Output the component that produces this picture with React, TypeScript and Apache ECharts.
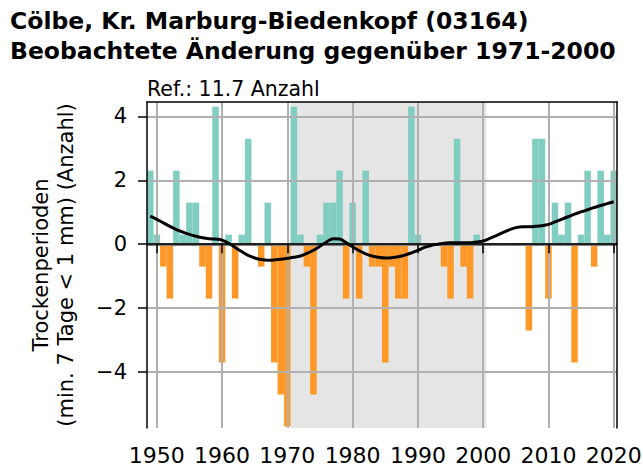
import React, { useEffect, useRef } from "react";
import * as echarts from "echarts";

const years: number[] = [];
for (let y = 1949; y <= 2020; y++) years.push(y);

// anomaly (count - 11.7), 1949..2020
const anomalies: number[] = [
  2.3, 0.3, -0.7, -1.7, 2.3, 0.3, 1.3, 1.3, -0.7, -1.7, // 1949-1958
  4.3, -3.7, 0.3, -1.7, 0.3, 3.3, 0, -0.7, 1.3, -3.7, // 1959-1968
  -4.7, -5.7, 4.3, 0.3, -0.7, -4.7, 0.3, 1.3, 1.3, 2.3, // 1969-1978
  -1.7, 1.3, -1.7, 2.3, -0.7, -0.7, -3.7, -0.7, -1.7, -1.7, // 1979-1988
  4.3, 0.3, 0, 0, 0, -0.7, -1.7, 3.3, -0.7, -1.7, // 1989-1998
  0.3, 0, 0, 0, 0, 0, 0, 0, -2.7, 3.3, // 1999-2008
  3.3, -1.7, 1.3, 0.3, 1.3, -3.7, 0.3, 2.3, -0.7, 2.3, // 2009-2018
  0.3, 2.3, // 2019-2020
];

// smoothed trend, 1949..2020
const smoothed: number[] = [
  0.88, 0.78, 0.67, 0.56, 0.46, 0.38, 0.31, 0.25, 0.2, 0.17, // 1949-1958
  0.16, 0.13, 0.03, -0.1, -0.23, -0.35, -0.43, -0.48, -0.5, -0.49, // 1959-1968
  -0.47, -0.44, -0.41, -0.37, -0.29, -0.19, -0.06, 0.07, 0.17, 0.16, // 1969-1978
  0.05, -0.08, -0.2, -0.3, -0.37, -0.41, -0.43, -0.42, -0.39, -0.34, // 1979-1988
  -0.27, -0.19, -0.1, -0.04, 0.0, 0.03, 0.05, 0.05, 0.05, 0.05, // 1989-1998
  0.07, 0.1, 0.18, 0.27, 0.36, 0.45, 0.52, 0.55, 0.55, 0.56, // 1999-2008
  0.58, 0.62, 0.7, 0.78, 0.86, 0.94, 1.01, 1.08, 1.15, 1.21, // 2009-2018
  1.27, 1.33, // 2019-2020
];

const xTicks: number[] = [1950, 1960, 1970, 1980, 1990, 2000, 2010, 2020];
const yTicks: number[] = [-4, -2, 0, 2, 4];
const refPeriod: number[] = [1970.5, 2000.5];
const xRange: number[] = [1948.5, 2020.5];
const yRange: number[] = [-5.75, 4.45];

const titleLine1 = "Cölbe, Kr. Marburg-Biedenkopf (03164)";
const titleLine2 = "Beobachtete Änderung gegenüber 1971-2000";
const refText = "Ref.: 11.7 Anzahl";
const yName = "Trockenperioden\n(min. 7 Tage < 1 mm) (Anzahl)";

const TEAL = "#80cdc1";
const ORANGE = "#fe9929";
const FONT = "DejaVu Sans";

export default function App() {
  const ref = useRef<HTMLDivElement>(null);
  useEffect(() => {
    document.body.style.margin = "0";
    if (!ref.current) return;
    const chart = echarts.init(ref.current, null, { renderer: "svg" });
    const fmt = (v: number) => (v < 0 ? "\u2212" + Math.abs(v) : String(v));
    chart.setOption({
      animation: false,
      backgroundColor: "#ffffff",
      textStyle: { fontFamily: FONT },
      grid: { left: 147, right: 26, top: 102, bottom: 42, outerBoundsMode: "none" },
      graphic: [
        {
          type: "text",
          x: 10,
          y: 21,
          style: {
            text: titleLine1,
            font: `bold 23.5px "${FONT}"`,
            fill: "#000",
            verticalAlign: "middle",
          },
        },
        {
          type: "text",
          x: 10,
          y: 51,
          style: {
            text: titleLine2,
            font: `bold 23.5px "${FONT}"`,
            fill: "#000",
            verticalAlign: "middle",
          },
        },
        {
          type: "text",
          x: 147,
          y: 89,
          style: {
            text: refText,
            font: `20.5px "${FONT}"`,
            fill: "#000",
            verticalAlign: "middle",
          },
        },
      ],
      xAxis: [
        {
          type: "value",
          min: xRange[0],
          max: xRange[1],
          position: "bottom",
          z: 10,
          axisLine: { show: true, lineStyle: { color: "#000", width: 1.5 } },
          axisTick: {
            show: true,
            length: 9,
            lineStyle: { color: "#000", width: 1.5 },
            customValues: xTicks,
          },
          axisLabel: {
            show: true,
            customValues: xTicks,
            fontSize: 22,
            color: "#000",
            fontFamily: FONT,
            margin: 16,
            formatter: (v: number) => String(v),
          },
          splitLine: { show: false },
        },
        {
          type: "value",
          min: xRange[0],
          max: xRange[1],
          position: "top",
          z: 10,
          axisLine: { show: true, onZero: false, lineStyle: { color: "#000", width: 1.5 } },
          axisTick: { show: false },
          axisLabel: { show: false },
          splitLine: { show: false },
        },
      ],
      yAxis: [
        {
          type: "value",
          min: yRange[0],
          max: yRange[1],
          position: "left",
          z: 10,
          name: yName,
          nameLocation: "middle",
          nameRotate: 90,
          nameGap: 69,
          nameTextStyle: { fontSize: 21, color: "#000", fontFamily: FONT, lineHeight: 25 },
          axisLine: { show: true, onZero: false, lineStyle: { color: "#000", width: 1.5 } },
          axisTick: {
            show: true,
            length: 9,
            lineStyle: { color: "#000", width: 1.5 },
            customValues: yTicks,
          },
          axisLabel: {
            show: true,
            customValues: yTicks,
            fontSize: 21,
            color: "#000",
            fontFamily: FONT,
            margin: 20,
            formatter: fmt,
          },
          splitLine: { show: false },
        },
        {
          type: "value",
          min: yRange[0],
          max: yRange[1],
          position: "right",
          z: 10,
          axisLine: { show: true, onZero: false, lineStyle: { color: "#000", width: 1.5 } },
          axisTick: { show: false },
          axisLabel: { show: false },
          splitLine: { show: false },
        },
      ],
      series: [
        {
          name: "shade",
          type: "line",
          data: [],
          z: 1,
          silent: true,
          markArea: {
            silent: true,
            itemStyle: { color: "#e5e5e5" },
            data: [[{ xAxis: refPeriod[0] }, { xAxis: refPeriod[1] }]],
          },
        },
        {
          name: "gridlines",
          type: "line",
          data: [],
          z: 2,
          silent: true,
          markLine: {
            silent: true,
            symbol: "none",
            label: { show: false },
            lineStyle: { color: "#b0b0b0", width: 2, type: "solid" },
            data: [
              ...xTicks.map((v) => ({ xAxis: v })),
              ...yTicks.map((v) => ({ yAxis: v })),
            ],
          },
        },
        {
          name: "anomaly",
          type: "bar",
          z: 3,
          barWidth: "100%",
          data: years.map((y, i) => [y, anomalies[i]]),
          itemStyle: {
            color: (p: any) => (p.value[1] >= 0 ? TEAL : ORANGE),
          },
        },
        {
          name: "zero",
          type: "line",
          data: [],
          z: 4,
          silent: true,
          markLine: {
            silent: true,
            symbol: "none",
            label: { show: false },
            lineStyle: { color: "#7f7f7f", width: 3, type: "solid" },
            data: [{ yAxis: 0 }],
          },
        },
        {
          name: "trend",
          type: "line",
          z: 5,
          smooth: 0.4,
          symbol: "none",
          data: years.map((y, i) => [y, smoothed[i]]),
          lineStyle: { color: "#000", width: 3 },
        },
      ],
    });
    return () => chart.dispose();
  }, []);
  return <div ref={ref} style={{ width: 643, height: 470 }} />;
}
